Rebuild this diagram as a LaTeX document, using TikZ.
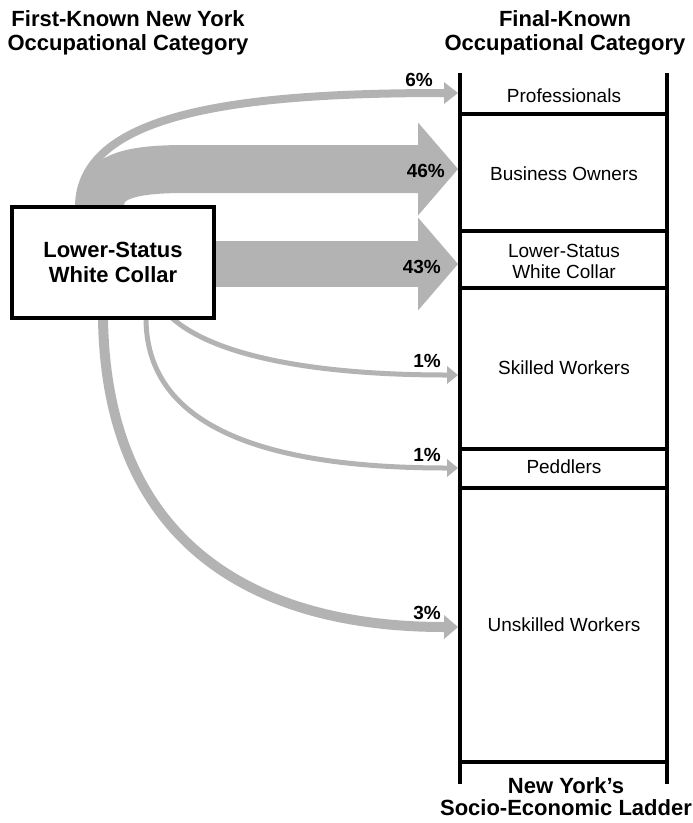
\documentclass[tikz,border=0pt]{standalone}
\usepackage{fontspec}
\setmainfont{Liberation Sans}
\usetikzlibrary{arrows.meta}
\definecolor{flowgray}{RGB}{179,179,179}
\begin{document}
\begin{tikzpicture}[x=1pt,y=-1pt,
  flow/.style={draw=flowgray, line width=#1},
  head/.style 2 args={-{Triangle[length=#1,width=#2,line width=0pt,color=flowgray]}},
  rail/.style={line width=4pt},
  cell/.style={font=\fontsize{19}{21}\selectfont, align=center, inner sep=0pt},
  pct/.style={font=\bfseries\fontsize{19}{21}\selectfont, anchor=base east, inner sep=0pt},
  heading/.style={font=\bfseries\fontsize{22}{24}\selectfont, align=center, inner sep=0pt},
  sourcebox/.style={draw, line width=4pt, fill=white, minimum width=202pt,
    minimum height=111pt, align=center, font=\bfseries\fontsize{22}{25}\selectfont}]
\path[use as bounding box] (0,0) rectangle (693,823);

% headings
\node[heading] (hleft) at (128,33) {First-Known New York\\Occupational Category};
\node[heading] (hright) at (565,33) {Final-Known\\Occupational Category};
\node[heading, font=\bfseries\fontsize{22}{22}\selectfont] (hbottom) at (566,797)
  {New York’s\\Socio-Economic Ladder};

% ladder rails and rungs
\draw[rail] (460,73) -- (460,784);
\draw[rail] (667,73) -- (667,784);
\foreach \y in {114,231,288,449,488,762}
  \draw[rail] (460,\y) -- (667,\y);

% ladder categories
\node[cell] (pro) at (564,96) {Professionals};
\node[cell] (bus) at (564,174) {Business Owners};
\node[cell] (lsw) at (564,261) {Lower-Status\\White Collar};
\node[cell] (skl) at (564,368) {Skilled Workers};
\node[cell] (ped) at (564,467) {Peddlers};
\node[cell] (uns) at (564,625) {Unskilled Workers};

% flow ends on the ladder's left rail
\coordinate (ePro) at (458,93);
\coordinate (eBus) at (458,169);
\coordinate (eLsw) at (458,264);
\coordinate (eSkl) at (458,375);
\coordinate (ePed) at (458,468);
\coordinate (eUns) at (458,627);

% flow starts at the source box
\coordinate (sPro) at (79,207);
\coordinate (sBus) at (100,207);
\coordinate (sLsw) at (214,264);
\coordinate (sSkl) at (172,318);
\coordinate (sPed) at (146,318);
\coordinate (sUns) at (103,318);

% flows
\draw[flow=8pt, head={14pt}{22pt}] (sPro) .. controls (79,110) and (250,93) .. (ePro);
\draw[flow=48pt, head={40pt}{93pt}] (sBus) .. controls (100,178) and (125,169) .. (185,169) -- (eBus);
\draw[flow=46pt, head={40pt}{93pt}] (sLsw) -- (eLsw);
\draw[flow=5pt, head={11pt}{18pt}] (sSkl) .. controls (210,352) and (300,375) .. (eSkl);
\draw[flow=5pt, head={11pt}{18pt}] (sPed) .. controls (146,420) and (250,468) .. (ePed);
\draw[flow=10pt, head={14pt}{24pt}] (sUns) .. controls (106,540) and (250,627) .. (eUns);

% source category
\node[sourcebox] (src) at (113,262.5) {Lower-Status\\White Collar};

% shares
\node[pct] (pPro) at (433,86) {6\%};
\node[pct] (pBus) at (445,177) {46\%};
\node[pct] (pLsw) at (441,273) {43\%};
\node[pct] (pSkl) at (441,367) {1\%};
\node[pct] (pPed) at (441,461) {1\%};
\node[pct] (pUns) at (441,619) {3\%};
\end{tikzpicture}
\end{document}
